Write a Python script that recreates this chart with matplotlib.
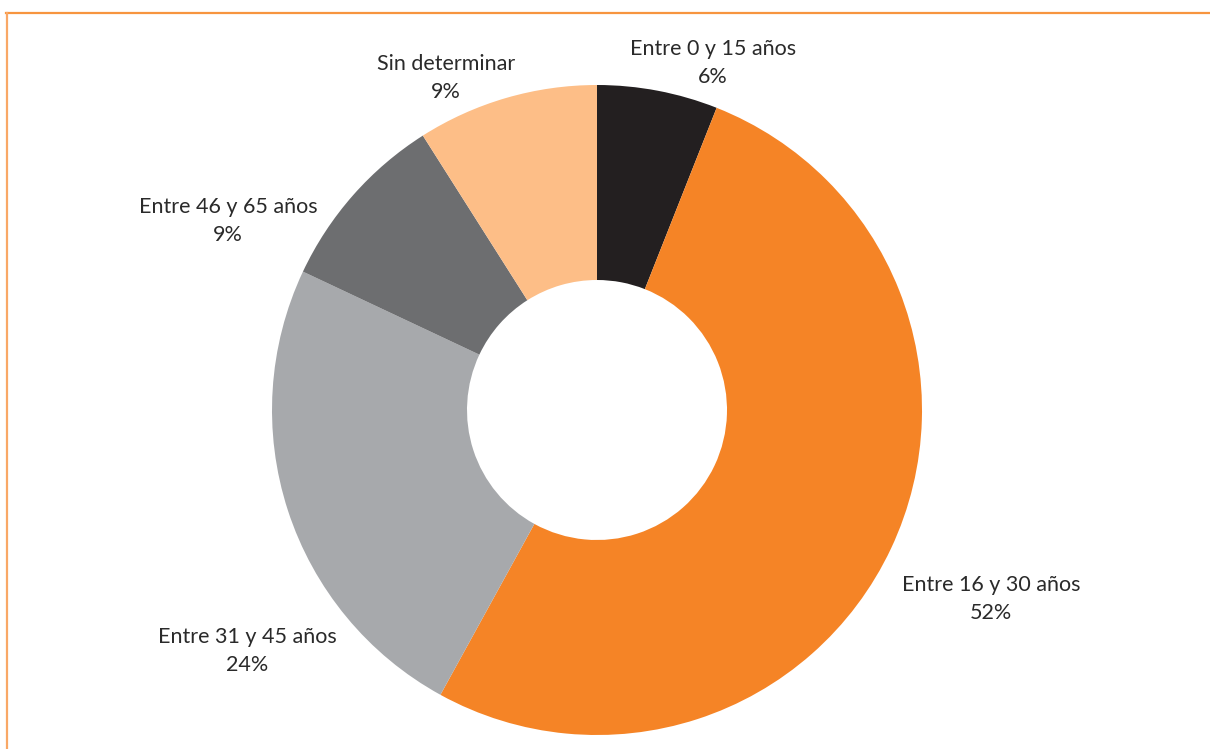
import matplotlib.pyplot as plt
from matplotlib.lines import Line2D

# ---- data ----
categories = ["Entre 0 y 15 años", "Entre 16 y 30 años", "Entre 31 y 45 años",
              "Entre 46 y 65 años", "Sin determinar"]
values = [6, 52, 24, 9, 9]
colors = ["#231F20", "#F58426", "#A7A9AC", "#6D6E70", "#FDBE87"]

# label centres (data units, outer radius = 1)
label_pos = [(0.357, 1.068), (1.212, -0.582), (-1.077, -0.742),
             (-1.135, 0.582), (-0.465, 1.022)]

fig = plt.figure(figsize=(12.1, 7.49), dpi=100)
W, H = 1210, 749
cx, cy, r = 597, 410, 325
ax = fig.add_axes([(cx - r) / W, (H - cy - r) / H, 2 * r / W, 2 * r / H])

wedges, _ = ax.pie(values, colors=colors, startangle=90, counterclock=False,
                   radius=1, wedgeprops=dict(width=0.6, linewidth=0))
ax.set_xlim(-1, 1)
ax.set_ylim(-1, 1)
ax.set_aspect("equal")
ax.axis("off")

for cat, val, (x, y) in zip(categories, values, label_pos):
    ax.text(x, y, f"{cat}\n{val}%", ha="center", va="center", fontsize=15.5,
            family="Lato", fontweight="normal", color="#2a2a2a",
            linespacing=1.5, clip_on=False)

# orange frame (top and left only)
fig.add_artist(Line2D([6 / W, 1], [1 - 12.5 / H, 1 - 12.5 / H], color="#F7953F", lw=1.6))
fig.add_artist(Line2D([6.5 / W, 6.5 / W], [0, 1 - 12.5 / H], color="#F9A866", lw=1.6))

fig.savefig("out.png", dpi=100)
